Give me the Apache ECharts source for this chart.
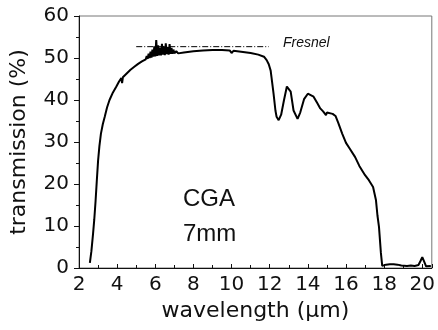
<!DOCTYPE html>
<html>
<head>
<meta charset="utf-8">
<script src="https://cdn.jsdelivr.net/npm/echarts@6/dist/echarts.min.js"></script>
<style>
  html, body { margin: 0; padding: 0; background: #fff; }
  #chart { width: 438px; height: 330px; }
</style>
</head>
<body>
<div id="chart"></div>
<script>
// wavelength (um) and transmission (%)
var wavelength = [
  2.57, 2.65, 2.74, 2.8, 2.87, 2.93, 3.0, 3.07, 3.15, 3.25, 3.35, 3.47, 3.6, 3.78, 3.96, 4.1, 4.22, 4.26, 4.3, 4.5,
  4.7, 4.9, 5.1, 5.3, 5.5,
  5.55, 5.6, 5.65, 5.7, 5.75, 5.8, 5.85, 5.9, 5.95, 6.0, 6.05, 6.1, 6.15, 6.2, 6.25, 6.3, 6.35, 6.4, 6.45, 6.5,
  6.55, 6.6, 6.65, 6.7, 6.75, 6.8, 6.85, 6.9, 6.95, 7.0, 7.1, 7.2, 7.5, 8.0, 8.5, 9.0, 9.5, 9.9, 10.0, 10.1, 10.5,
  11.0, 11.4, 11.7, 11.84, 11.95, 12.05, 12.2, 12.3, 12.36, 12.47, 12.6, 12.75, 12.9, 13.0, 13.1, 13.25, 13.46,
  13.6, 13.8, 14.0, 14.1, 14.3, 14.5, 14.65, 14.8, 14.95, 15.0, 15.1, 15.3, 15.45, 15.6, 15.8, 16.0, 16.2, 16.48,
  16.7, 17.0, 17.2, 17.42, 17.57, 17.65, 17.73, 17.83, 17.9, 18.0, 18.1, 18.2, 18.3, 18.4, 18.5, 18.6, 18.7, 18.8,
  18.9, 19.0, 19.2, 19.4, 19.6, 19.8, 19.9, 20.0, 20.1, 20.2, 20.3, 20.45
];
var transmission = [
  1.2, 4, 8.3, 11.5, 16, 20.5, 25.5, 29, 32, 34.3, 36, 38.2, 40, 41.8, 43.2, 44.4, 45.2, 44.0, 45.4, 46.3,
  47.2, 47.9, 48.6, 49.2, 49.7,
  50.5, 49.8, 51.0, 50.0, 51.5, 50.1, 52.0, 50.3, 52.8, 50.4, 54.3, 50.5, 53.0, 50.6, 52.5, 50.6, 53.4, 50.8, 52.8, 50.7,
  53.5, 50.9, 52.6, 50.8, 53.3, 51.0, 52.4, 51.0, 52.0, 51.1, 51.6, 51.1, 51.3, 51.6, 51.8, 51.9, 51.9, 51.8, 51.2, 51.7, 51.5,
  51.2, 50.8, 50.3, 49.5, 48.5, 47, 41.6, 37.5, 36, 35.2, 36.5, 40, 43.2, 43.6, 42, 37.5, 35.5,
  37, 40.2, 41.5, 41.6, 40.8, 39.2, 38.0, 37.3, 36.4, 37.0, 36.9, 36.7, 36.2, 34.5, 32.0, 29.8, 28.4, 26.4,
  24.3, 22.1, 20.9, 19.3, 16.2, 12.5, 9.8, 3.6, 0.5, 0.2, 0.8, 0.5, 0.9, 0.6, 0.9, 0.5, 0.8, 0.6,
  0.6, 0.8, 0.5, 0.6, 0.5, 0.7, 1.6, 2.6, 1.5, 0.4, 0.4, 0.5
];
var fresnelX = [5.0, 11.95];
var fresnelY = [52.7, 52.7];

var font = 'DejaVu Sans, sans-serif';
var textFont = 'Liberation Sans, Arial, sans-serif';
var chart = echarts.init(document.getElementById('chart'));

var curve = wavelength.map(function (x, i) { return [x, transmission[i]]; });
var fresnel = fresnelX.map(function (x, i) { return [x, fresnelY[i]]; });

chart.setOption({
  animation: false,
  grid: {
    left: 79, right: 4, top: 16, bottom: 62,
    show: true, borderColor: '#777', borderWidth: 1
  },
  xAxis: {
    type: 'value',
    min: 2, max: 20.5, interval: 2,
    name: 'wavelength (\u03bcm)',
    nameLocation: 'middle',
    nameGap: 31,
    nameTextStyle: { fontFamily: font, fontSize: 22, color: '#111' },
    axisLine: { lineStyle: { color: '#111', width: 1 } },
    axisTick: { inside: true, length: 4, lineStyle: { color: '#111' } },
    minorTick: { show: true, splitNumber: 2, length: 3, lineStyle: { color: '#111' } },
    splitLine: { show: false },
    axisLabel: {
      fontFamily: font, fontSize: 20, color: '#111', margin: 7,
      formatter: function (v) { return v % 2 === 0 ? v : ''; }
    }
  },
  yAxis: {
    type: 'value',
    min: 0, max: 60, interval: 10,
    name: 'transmission (%)',
    nameLocation: 'middle',
    nameGap: 49,
    nameTextStyle: { fontFamily: font, fontSize: 22, color: '#111' },
    axisLine: { show: true, lineStyle: { color: '#111', width: 1 } },
    axisTick: { show: true, length: 5, lineStyle: { color: '#111' } },
    minorTick: { show: true, splitNumber: 2, length: 3, lineStyle: { color: '#111' } },
    splitLine: { show: false },
    axisLabel: { fontFamily: font, fontSize: 20, color: '#111', margin: 10 }
  },
  series: [
    {
      type: 'line',
      data: curve,
      symbol: 'none',
      lineStyle: { color: '#000', width: 2 }
    },
    {
      type: 'line',
      data: fresnel,
      symbol: 'none',
      lineStyle: { color: '#000', width: 1, type: [6, 2, 1, 2] }
    }
  ],
  graphic: [
    { type: 'text', left: 283, top: 36, style: { text: 'Fresnel', fontFamily: textFont, fontSize: 14, fontStyle: 'italic', fill: '#111' } },
    { type: 'text', left: 183, top: 187, style: { text: 'CGA', fontFamily: textFont, fontSize: 24, fill: '#111' } },
    { type: 'text', left: 183, top: 222, style: { text: '7mm', fontFamily: textFont, fontSize: 24, fill: '#111' } }
  ]
});
</script>
</body>
</html>
